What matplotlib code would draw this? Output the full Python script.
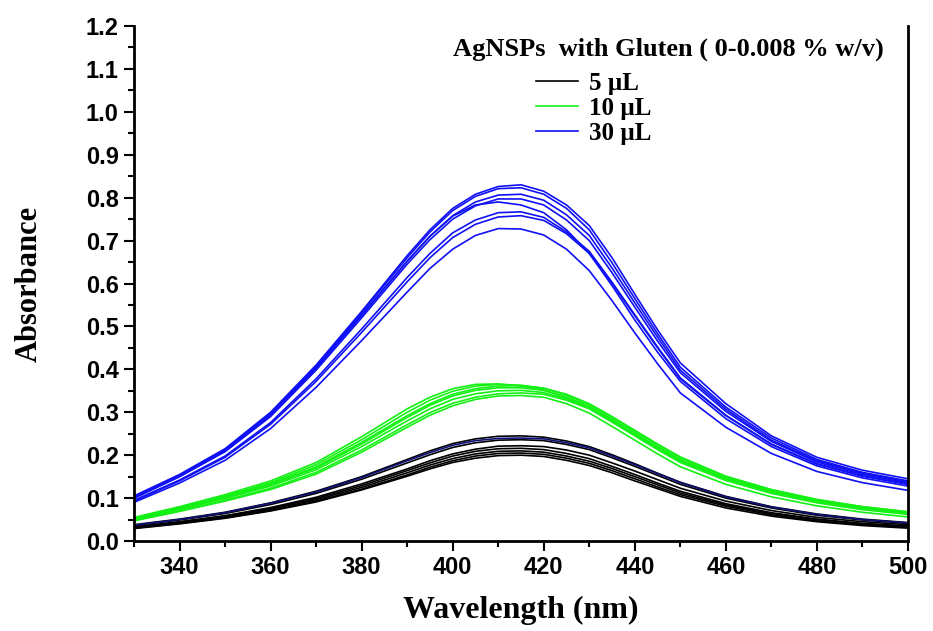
import matplotlib
matplotlib.use("Agg")
import matplotlib.pyplot as plt
from matplotlib.ticker import MultipleLocator, FormatStrFormatter
from matplotlib.lines import Line2D

wavelength = [330, 340, 350, 360, 370, 380, 390, 395, 400, 405, 410, 415,
              420, 425, 430, 435, 440, 445, 450, 460, 470, 480, 490, 500]

# 5 uL series (black, one navy)
black_5ul = [
    [0.038, 0.051, 0.067, 0.089, 0.116, 0.150, 0.190, 0.210, 0.227, 0.238, 0.244, 0.245, 0.242, 0.233, 0.220, 0.201, 0.180, 0.158, 0.137, 0.104, 0.080, 0.063, 0.051, 0.043],
    [0.036, 0.049, 0.064, 0.085, 0.111, 0.144, 0.182, 0.201, 0.218, 0.229, 0.235, 0.236, 0.234, 0.225, 0.213, 0.194, 0.174, 0.153, 0.132, 0.100, 0.077, 0.060, 0.049, 0.041],
    [0.033, 0.045, 0.059, 0.078, 0.102, 0.133, 0.168, 0.187, 0.203, 0.214, 0.221, 0.222, 0.220, 0.212, 0.200, 0.182, 0.163, 0.143, 0.123, 0.093, 0.071, 0.055, 0.045, 0.038],
    [0.032, 0.044, 0.058, 0.076, 0.099, 0.129, 0.164, 0.182, 0.198, 0.209, 0.215, 0.216, 0.213, 0.204, 0.192, 0.174, 0.155, 0.135, 0.116, 0.087, 0.066, 0.051, 0.041, 0.035],
    [0.031, 0.043, 0.056, 0.074, 0.096, 0.125, 0.159, 0.177, 0.192, 0.203, 0.209, 0.210, 0.207, 0.198, 0.186, 0.169, 0.150, 0.131, 0.112, 0.084, 0.064, 0.050, 0.040, 0.034],
    [0.030, 0.041, 0.054, 0.071, 0.093, 0.121, 0.154, 0.172, 0.187, 0.198, 0.204, 0.205, 0.202, 0.193, 0.181, 0.164, 0.145, 0.126, 0.108, 0.081, 0.061, 0.047, 0.038, 0.032],
    [0.029, 0.040, 0.053, 0.070, 0.091, 0.119, 0.151, 0.168, 0.183, 0.193, 0.199, 0.200, 0.197, 0.188, 0.176, 0.159, 0.140, 0.122, 0.104, 0.077, 0.058, 0.045, 0.036, 0.030],
]
navy_5ul = [0.037, 0.050, 0.066, 0.088, 0.114, 0.148, 0.187, 0.206, 0.223, 0.234, 0.239, 0.240, 0.238, 0.229, 0.217, 0.198, 0.178, 0.157, 0.136, 0.103, 0.079, 0.062, 0.050, 0.042]

# 10 uL series (green)
green_10ul = [
    [0.055, 0.080, 0.108, 0.140, 0.183, 0.243, 0.308, 0.335, 0.355, 0.365, 0.366, 0.361, 0.352, 0.334, 0.310, 0.280, 0.248, 0.217, 0.188, 0.145, 0.115, 0.093, 0.077, 0.066],
    [0.053, 0.078, 0.105, 0.136, 0.178, 0.236, 0.300, 0.328, 0.349, 0.361, 0.365, 0.363, 0.356, 0.340, 0.318, 0.288, 0.256, 0.224, 0.194, 0.150, 0.119, 0.096, 0.080, 0.068],
    [0.052, 0.076, 0.103, 0.133, 0.173, 0.230, 0.292, 0.320, 0.342, 0.355, 0.361, 0.362, 0.356, 0.342, 0.320, 0.290, 0.258, 0.226, 0.196, 0.151, 0.120, 0.097, 0.080, 0.068],
    [0.051, 0.075, 0.101, 0.131, 0.170, 0.226, 0.288, 0.316, 0.338, 0.351, 0.357, 0.357, 0.351, 0.336, 0.314, 0.284, 0.252, 0.220, 0.190, 0.147, 0.116, 0.094, 0.078, 0.066],
    [0.050, 0.073, 0.099, 0.128, 0.166, 0.220, 0.280, 0.308, 0.330, 0.343, 0.350, 0.351, 0.346, 0.331, 0.310, 0.280, 0.248, 0.216, 0.186, 0.144, 0.114, 0.092, 0.076, 0.064],
    [0.048, 0.070, 0.095, 0.123, 0.160, 0.212, 0.271, 0.299, 0.321, 0.335, 0.343, 0.345, 0.342, 0.328, 0.308, 0.277, 0.245, 0.213, 0.183, 0.141, 0.111, 0.089, 0.073, 0.062],
    [0.047, 0.069, 0.093, 0.120, 0.156, 0.207, 0.265, 0.293, 0.315, 0.330, 0.338, 0.339, 0.335, 0.320, 0.298, 0.267, 0.235, 0.203, 0.173, 0.132, 0.103, 0.082, 0.067, 0.056],
]

# 30 uL series (blue)
blue_30ul = [
    [0.105, 0.155, 0.215, 0.300, 0.410, 0.535, 0.665, 0.725, 0.775, 0.808, 0.826, 0.830, 0.815, 0.783, 0.735, 0.660, 0.575, 0.492, 0.415, 0.320, 0.245, 0.195, 0.165, 0.145],
    [0.103, 0.153, 0.213, 0.297, 0.407, 0.532, 0.660, 0.720, 0.770, 0.803, 0.821, 0.823, 0.808, 0.775, 0.725, 0.648, 0.565, 0.483, 0.405, 0.312, 0.240, 0.190, 0.160, 0.140],
    [0.100, 0.150, 0.210, 0.293, 0.402, 0.525, 0.652, 0.710, 0.758, 0.790, 0.806, 0.808, 0.794, 0.760, 0.712, 0.636, 0.555, 0.475, 0.398, 0.307, 0.235, 0.187, 0.158, 0.138],
    [0.100, 0.150, 0.208, 0.290, 0.398, 0.520, 0.645, 0.702, 0.750, 0.781, 0.797, 0.797, 0.783, 0.748, 0.700, 0.625, 0.545, 0.466, 0.392, 0.302, 0.232, 0.184, 0.155, 0.136],
    [0.102, 0.152, 0.212, 0.296, 0.405, 0.527, 0.652, 0.710, 0.757, 0.783, 0.790, 0.783, 0.765, 0.725, 0.670, 0.595, 0.515, 0.440, 0.372, 0.285, 0.220, 0.175, 0.147, 0.128],
    [0.095, 0.142, 0.198, 0.276, 0.378, 0.494, 0.614, 0.670, 0.718, 0.748, 0.765, 0.767, 0.754, 0.720, 0.675, 0.603, 0.527, 0.452, 0.380, 0.293, 0.226, 0.180, 0.152, 0.133],
    [0.093, 0.140, 0.195, 0.272, 0.372, 0.486, 0.604, 0.660, 0.707, 0.738, 0.755, 0.758, 0.747, 0.716, 0.670, 0.600, 0.525, 0.450, 0.378, 0.292, 0.225, 0.179, 0.151, 0.132],
    [0.090, 0.135, 0.188, 0.262, 0.358, 0.467, 0.580, 0.635, 0.680, 0.712, 0.728, 0.727, 0.713, 0.680, 0.630, 0.560, 0.485, 0.413, 0.345, 0.265, 0.204, 0.162, 0.136, 0.118],
]

legend_labels = ["5 \u00b5L", "10 \u00b5L", "30 \u00b5L"]
legend_title = "AgNSPs  with Gluten ( 0-0.008 % w/v)"

c_black = "#000000"
c_navy = "#10107a"
c_green = "#14f014"
c_blue = "#1010f5"

fig = plt.figure(figsize=(9.33, 6.31), dpi=100)
ax = fig.add_axes([0.1436, 0.1426, 0.8296, 0.8162])

for ys in black_5ul:
    ax.plot(wavelength, ys, color=c_black, lw=1.2)
ax.plot(wavelength, navy_5ul, color=c_navy, lw=1.2)
for ys in green_10ul:
    ax.plot(wavelength, ys, color=c_green, lw=1.2)
for ys in blue_30ul:
    ax.plot(wavelength, ys, color=c_blue, lw=1.2)

ax.set_xlim(330, 500)
ax.set_ylim(0, 1.2)
ax.set_xticks([340, 360, 380, 400, 420, 440, 460, 480, 500])
ax.xaxis.set_minor_locator(MultipleLocator(10))
ax.yaxis.set_major_locator(MultipleLocator(0.1))
ax.yaxis.set_minor_locator(MultipleLocator(0.05))
ax.yaxis.set_major_formatter(FormatStrFormatter("%.1f"))

ax.spines["top"].set_visible(False)
for s in ["left", "bottom", "right"]:
    ax.spines[s].set_linewidth(2)
ax.tick_params(which="major", direction="out", length=7, width=1.5,
               labelsize=17, pad=4, top=False, right=False)
ax.tick_params(which="minor", direction="out", length=4, width=1.5,
               top=False, right=False)
for lab in ax.get_xticklabels() + ax.get_yticklabels():
    lab.set_fontfamily("Liberation Sans")
    lab.set_fontweight("bold")

ax.set_xlabel("Wavelength (nm)", family="Liberation Serif", fontweight="bold",
              fontsize=23, labelpad=12)
ax.set_ylabel("Absorbance", family="Liberation Serif", fontweight="bold",
              fontsize=22, labelpad=30)

ax.text(0.69, 0.955, legend_title, transform=ax.transAxes, ha="center",
        va="center", family="Liberation Serif", fontweight="bold", fontsize=19)
handles = [Line2D([], [], color=c, lw=1.2) for c in (c_black, c_green, c_blue)]
ax.legend(handles, legend_labels, loc="upper left", bbox_to_anchor=(0.506, 0.93),
          frameon=False, handlelength=1.7, handletextpad=0.45, labelspacing=0.08,
          borderaxespad=0, prop={"family": "Liberation Serif", "weight": "bold", "size": 18})

fig.savefig("out.png", dpi=100)
